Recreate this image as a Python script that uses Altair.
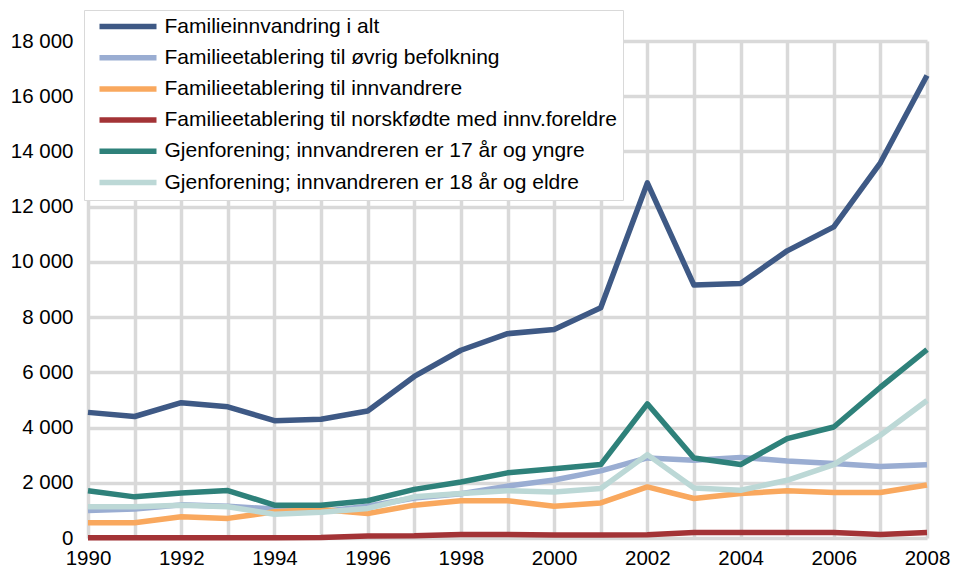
import altair as alt
import pandas as pd

years = list(range(1990, 2009))
series_names = [
    "Familieinnvandring i alt",
    "Familieetablering til øvrig befolkning",
    "Familieetablering til innvandrere",
    "Familieetablering til norskfødte med innv.foreldre",
    "Gjenforening; innvandreren er 17 år og yngre",
    "Gjenforening; innvandreren er 18 år og eldre",
]
colors = ["#3E5985", "#9AADD2", "#F9A85E", "#A33336", "#2E817A", "#BCD8D6"]

total = [4550, 4400, 4900, 4750, 4250, 4300, 4600, 5850, 6800, 7400, 7550, 8340, 12860, 9160, 9220, 10400, 11270, 13590, 16750]
ovrig = [1000, 1050, 1200, 1150, 1050, 950, 1150, 1450, 1600, 1880, 2100, 2430, 2900, 2820, 2920, 2790, 2700, 2590, 2650]
innv = [550, 550, 770, 710, 950, 1030, 890, 1190, 1350, 1350, 1150, 1270, 1850, 1430, 1610, 1710, 1650, 1650, 1920]
norsk = [10, 10, 10, 10, 10, 20, 70, 80, 130, 130, 110, 110, 120, 200, 200, 200, 200, 130, 200]
yngre = [1710, 1490, 1630, 1720, 1190, 1190, 1350, 1760, 2030, 2360, 2510, 2660, 4860, 2900, 2660, 3600, 4020, 5460, 6820]
eldre = [1130, 1130, 1190, 1130, 860, 930, 1070, 1490, 1610, 1710, 1670, 1790, 3020, 1810, 1730, 2090, 2660, 3720, 4980]

all_values = [total, ovrig, innv, norsk, yngre, eldre]
rows = []
for name, vals in zip(series_names, all_values):
    for yr, v in zip(years, vals):
        rows.append({"year": yr, "value": v, "series": name})
df = pd.DataFrame(rows)

FONT = "Liberation Sans"

color_scale = alt.Scale(domain=series_names, range=colors)
legend = alt.Legend(
    orient="none", legendX=-4, legendY=-31, title=None,
    symbolType="M-5,0H5", symbolSize=130, symbolStrokeWidth=5.5,
    labelFont=FONT, labelFontSize=21, labelColor="black",
    padding=6, strokeColor="#d9d9d9", fillColor="white",
    rowPadding=8.2, symbolOffset=27.5, labelOffset=26, labelLimit=600,
)

x_enc = alt.X("year:Q", scale=alt.Scale(domain=[1990, 2008], nice=False),
              axis=alt.Axis(values=years, title=None, domain=False, ticks=False,
                            labelExpr="datum.value % 2 == 0 ? '' + datum.value : ''",
                            labelPadding=10, labelFlush=False))
y_enc = alt.Y("value:Q", scale=alt.Scale(domain=[0, 18000], nice=False),
              axis=alt.Axis(values=list(range(0, 18001, 2000)), title=None, domain=False, ticks=False,
                            labelExpr="replace(format(datum.value, ','), ',', ' ')",
                            labelPadding=15))

layers = []
for i, name in enumerate(series_names):
    layers.append(
        alt.Chart(df).transform_filter(alt.datum.series == name)
        .mark_line(strokeWidth=5.5, strokeJoin="round")
        .encode(x=x_enc, y=y_enc,
                color=alt.Color("series:N", scale=color_scale,
                                legend=legend if i == 0 else None))
    )

chart = alt.layer(*layers).properties(
    width=839, height=497,
    autosize=alt.AutoSizeParams(type="none"),
    padding={"left": 80, "top": 33, "right": 25, "bottom": 32},
).configure_axis(
    labelFont=FONT, labelFontSize=20.5, labelColor="black",
    gridColor="#d9d9d9", gridWidth=3.5,
).configure_view(stroke=None)

chart.save("out.html", embed_options={"renderer": "svg", "actions": False})
